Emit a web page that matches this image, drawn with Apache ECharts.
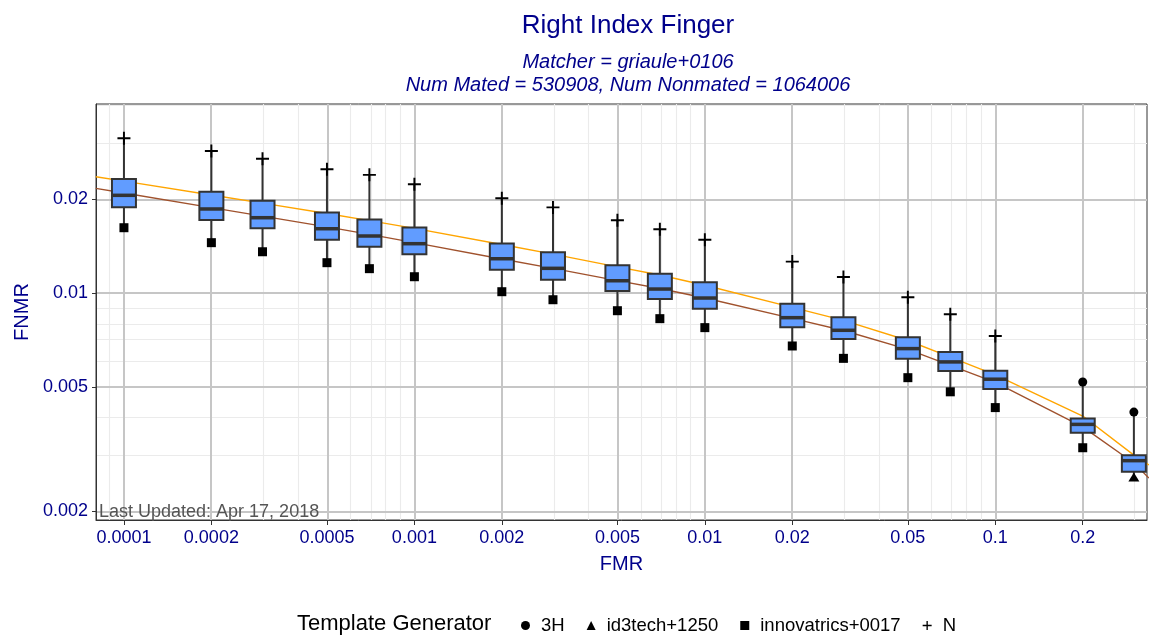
<!DOCTYPE html>
<html>
<head>
<meta charset="utf-8">
<title>Right Index Finger</title>
<script src="https://cdn.jsdelivr.net/npm/echarts@6/dist/echarts.min.js"></script>
<style>
  html, body { margin: 0; padding: 0; background: #fff; }
  #chart { width: 1149px; height: 635px; }
</style>
</head>
<body>
<div id="chart"></div>
<script>
// FMR levels where a box sits
var fmrLevels = [0.0001, 0.0002, 0.0003, 0.0005, 0.0007, 0.001, 0.002, 0.003, 0.005, 0.007,
    0.01, 0.02, 0.03, 0.05, 0.07, 0.1, 0.2, 0.3];
// box statistics (FNMR) per level
var whiskerHigh = [0.0313, 0.0285, 0.0269, 0.0249, 0.0239, 0.0223, 0.0201, 0.0188, 0.0171, 0.0160,
    0.0148, 0.0126, 0.01125, 0.00968, 0.00854, 0.00728, 0.00518, 0.00415];
var boxUpper = [0.0232, 0.0211, 0.01975, 0.0181, 0.0172, 0.0162, 0.0144, 0.0135, 0.01226, 0.01152,
    0.01082, 0.00924, 0.00835, 0.00721, 0.00647, 0.00563, 0.00396, 0.00302];
var boxMedian = [0.02055, 0.01858, 0.01742, 0.01606, 0.01522, 0.01438, 0.01287, 0.01199, 0.01094, 0.01029,
    0.00963, 0.00833, 0.00759, 0.00663, 0.00601, 0.00529, 0.00379, 0.0029];
var boxLower = [0.01881, 0.01713, 0.01611, 0.01481, 0.01407, 0.0133, 0.01187, 0.01102, 0.01014, 0.00956,
    0.0089, 0.00776, 0.00712, 0.00615, 0.00562, 0.00492, 0.00356, 0.00267];
var whiskerLow = [0.01618, 0.01449, 0.01355, 0.0125, 0.01196, 0.01127, 0.01009, 0.00951, 0.00877, 0.00827,
    0.00774, 0.00676, 0.00617, 0.00535, 0.00482, 0.00429, 0.00319, 0.00257];

// template generator points
var fmrN = [0.0001, 0.0002, 0.0003, 0.0005, 0.0007, 0.001, 0.002, 0.003, 0.005, 0.007,
    0.01, 0.02, 0.03, 0.05, 0.07, 0.1];
var fnmrN = [0.0313, 0.0285, 0.0269, 0.0249, 0.0239, 0.0223, 0.0201, 0.0188, 0.0171, 0.0160,
    0.0148, 0.0126, 0.01125, 0.00968, 0.00854, 0.00728];
var fmrInnov = [0.0001, 0.0002, 0.0003, 0.0005, 0.0007, 0.001, 0.002, 0.003, 0.005, 0.007,
    0.01, 0.02, 0.03, 0.05, 0.07, 0.1, 0.2];
var fnmrInnov = [0.01618, 0.01449, 0.01355, 0.0125, 0.01196, 0.01127, 0.01009, 0.00951, 0.00877, 0.00827,
    0.00774, 0.00676, 0.00617, 0.00535, 0.00482, 0.00429, 0.00319];
var fmr3H = [0.2, 0.3];
var fnmr3H = [0.00518, 0.00415];
var fmrId3 = [0.3];
var fnmrId3 = [0.00257];

// the two DET curves
var curveFmr = [0.00008, 0.0001, 0.0002, 0.0003, 0.0005, 0.0007, 0.001, 0.002, 0.003, 0.005, 0.007,
    0.01, 0.02, 0.03, 0.05, 0.07, 0.1, 0.2, 0.3, 0.338];
var orangeFnmr = [0.02358, 0.02282, 0.0206, 0.0194, 0.01797, 0.01705, 0.0161, 0.01429, 0.01331, 0.01212, 0.01141,
    0.01058, 0.00899, 0.00817, 0.00704, 0.00623, 0.00546, 0.00403, 0.00302, 0.00281];
var brownFnmr = [0.02164, 0.0209, 0.01876, 0.01762, 0.01628, 0.0154, 0.0145, 0.01284, 0.01199, 0.01095, 0.01033,
    0.00963, 0.00829, 0.00758, 0.00659, 0.00586, 0.00517, 0.00372, 0.00285, 0.00255];

// tick labels
var xTickLabels = ['0.0001', '0.0002', '0.0005', '0.001', '0.002', '0.005', '0.01', '0.02', '0.05', '0.1', '0.2'];
var yTickLabels = ['0.002', '0.005', '0.01', '0.02'];

var xMin = -4.0962, xMax = -0.4777;
var yMin = -2.7278, yMax = -1.3945;

var lg = function (v) { return Math.log10(v); };
var pairs = function (xs, ys) {
    return xs.map(function (x, i) { return [lg(x), lg(ys[i])]; });
};

// minor grid positions: 3,4,6,7,8,9 x 10^k
var minorVals = function (lo, hi) {
    var out = [];
    for (var k = -6; k <= 0; k++) {
        [3, 4, 6, 7, 8, 9].forEach(function (m) {
            var v = lg(m) + k;
            if (v > lo && v < hi) out.push(v);
        });
    }
    return out;
};
var xMajor = xTickLabels.map(function (s) { return lg(+s); });
var yMajor = yTickLabels.map(function (s) { return lg(+s); });
var xMinor = minorVals(xMin, xMax);
var yMinor = minorVals(yMin, yMax);

var labelFor = function (labels) {
    return function (v) {
        for (var i = 0; i < labels.length; i++) {
            if (Math.abs(lg(+labels[i]) - v) < 1e-6) return labels[i];
        }
        return '';
    };
};

var boxData = fmrLevels.map(function (f, i) {
    return [lg(f), lg(whiskerLow[i]), lg(boxLower[i]), lg(boxMedian[i]), lg(boxUpper[i]), lg(whiskerHigh[i])];
});

var plusPath = 'path://M0,5.1H12V6.9H0Z M5.1,0H6.9V12H5.1Z';
var darkBlue = '#00008B';

var box = document.getElementById('chart');
var myChart = echarts.init(box);

var option = {
    animation: false,
    textStyle: { fontFamily: 'Liberation Sans' },
    title: [{
        text: 'Right Index Finger',
        left: 628, top: 13, textAlign: 'center', padding: 0,
        textStyle: { color: darkBlue, fontSize: 26, fontWeight: 'normal' }
    }, {
        text: 'Matcher = griaule+0106',
        left: 628, top: 52, textAlign: 'center', padding: 0,
        textStyle: { color: darkBlue, fontSize: 20, fontWeight: 'normal', fontStyle: 'italic' }
    }, {
        text: 'Num Mated = 530908, Num Nonmated = 1064006',
        left: 628, top: 75, textAlign: 'center', padding: 0,
        textStyle: { color: darkBlue, fontSize: 20, fontWeight: 'normal', fontStyle: 'italic' }
    }, {
        text: 'Last Updated: Apr 17, 2018',
        left: 99, top: 503, padding: 0,
        textStyle: { color: '#555555', fontSize: 18, fontWeight: 'normal' }
    }, {
        text: 'Template Generator',
        left: 297, top: 613, padding: 0,
        textStyle: { color: '#000', fontSize: 22, fontWeight: 'normal' }
    }],
    legend: {
        left: 516, top: 611,
        itemWidth: 9, itemHeight: 9, itemGap: 22,
        textStyle: { color: '#000', fontSize: 18.5, padding: [0, 0, 0, 6] },
        data: [
            { name: '3H', icon: 'circle' },
            { name: 'id3tech+1250', icon: 'triangle' },
            { name: 'innovatrics+0017', icon: 'rect' },
            { name: 'N', icon: plusPath, itemStyle: { color: '#000' } }
        ]
    },
    grid: {
        left: 96, right: 2, top: 104, bottom: 115,
        show: true, borderColor: '#333', borderWidth: 1
    },
    xAxis: {
        type: 'value', min: xMin, max: xMax,
        name: 'FMR', nameLocation: 'middle', nameGap: 34,
        nameTextStyle: { color: darkBlue, fontSize: 20 },
        axisLine: { show: true, lineStyle: { color: '#333' } },
        axisTick: { show: true, customValues: xMajor, length: 5, lineStyle: { color: '#333' } },
        axisLabel: { customValues: xMajor, formatter: labelFor(xTickLabels), color: darkBlue, fontSize: 18, margin: 9 },
        splitLine: { show: false }
    },
    yAxis: {
        type: 'value', min: yMin, max: yMax,
        name: 'FNMR', nameLocation: 'middle', nameGap: 64,
        nameTextStyle: { color: darkBlue, fontSize: 20 },
        axisLine: { show: true, lineStyle: { color: '#333' } },
        axisTick: { show: true, customValues: yMajor, length: 4, lineStyle: { color: '#333' } },
        axisLabel: { customValues: yMajor, formatter: labelFor(yTickLabels), color: darkBlue, fontSize: 18, margin: 8 },
        splitLine: { show: false }
    },
    series: [{
        // minor grid
        type: 'line', data: [], z: 0, silent: true,
        markLine: {
            z: 0, silent: true, animation: false, symbol: ['none', 'none'], label: { show: false },
            lineStyle: { color: '#EBEBEB', width: 1.1, type: 'solid' },
            data: xMinor.map(function (v) { return { xAxis: v }; })
                .concat(yMinor.map(function (v) { return { yAxis: v }; }))
        }
    }, {
        // major grid
        type: 'line', data: [], z: 0, silent: true,
        markLine: {
            z: 0, silent: true, animation: false, symbol: ['none', 'none'], label: { show: false },
            lineStyle: { color: '#C6C6C6', width: 2, type: 'solid' },
            data: xMajor.map(function (v) { return { xAxis: v }; })
                .concat(yMajor.map(function (v) { return { yAxis: v }; }))
        }
    }, {
        name: 'orange', type: 'line', symbol: 'none', z: 2, silent: true,
        lineStyle: { color: '#FFA500', width: 1.4 },
        data: pairs(curveFmr, orangeFnmr)
    }, {
        name: 'brown', type: 'line', symbol: 'none', z: 2, silent: true,
        lineStyle: { color: '#A0522D', width: 1.4 },
        data: pairs(curveFmr, brownFnmr)
    }, {
        name: 'box', type: 'custom', z: 3, silent: true,
        encode: { x: 0, y: [1, 2, 3, 4, 5] },
        renderItem: function (params, api) {
            var x = api.value(0);
            var pLow = api.coord([x, api.value(1)]);
            var pQ1 = api.coord([x, api.value(2)]);
            var pMed = api.coord([x, api.value(3)]);
            var pQ3 = api.coord([x, api.value(4)]);
            var pHigh = api.coord([x, api.value(5)]);
            var hw = 12;
            var ink = '#333333';
            return {
                type: 'group',
                children: [{
                    type: 'line',
                    shape: { x1: pHigh[0], y1: pHigh[1], x2: pQ3[0], y2: pQ3[1] },
                    style: { stroke: ink, lineWidth: 2 }
                }, {
                    type: 'line',
                    shape: { x1: pQ1[0], y1: pQ1[1], x2: pLow[0], y2: pLow[1] },
                    style: { stroke: ink, lineWidth: 2 }
                }, {
                    type: 'rect',
                    shape: { x: pQ3[0] - hw, y: pQ3[1], width: hw * 2, height: pQ1[1] - pQ3[1] },
                    style: { fill: '#619CFF', stroke: ink, lineWidth: 2 }
                }, {
                    type: 'line',
                    shape: { x1: pMed[0] - hw, y1: pMed[1], x2: pMed[0] + hw, y2: pMed[1] },
                    style: { stroke: ink, lineWidth: 3.5 }
                }]
            };
        },
        data: boxData
    }, {
        name: '3H', type: 'scatter', z: 4, symbol: 'circle', symbolSize: 9,
        itemStyle: { color: '#000', opacity: 1 },
        data: pairs(fmr3H, fnmr3H)
    }, {
        name: 'id3tech+1250', type: 'scatter', z: 4, symbol: 'triangle', symbolSize: [11, 9],
        itemStyle: { color: '#000', opacity: 1 },
        data: pairs(fmrId3, fnmrId3)
    }, {
        name: 'innovatrics+0017', type: 'scatter', z: 4, symbol: 'rect', symbolSize: 9,
        itemStyle: { color: '#000', opacity: 1 },
        data: pairs(fmrInnov, fnmrInnov)
    }, {
        name: 'N', type: 'scatter', z: 4, symbol: plusPath, symbolSize: 13,
        itemStyle: { color: '#000', opacity: 1 },
        data: pairs(fmrN, fnmrN)
    }]
};
myChart.setOption(option);
</script>
</body>
</html>
